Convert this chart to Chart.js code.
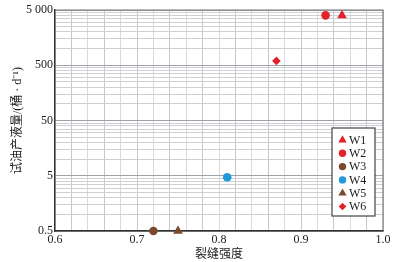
<!DOCTYPE html>
<html>
<head>
<meta charset="utf-8">
<script src="https://cdn.jsdelivr.net/npm/chart.js@4/dist/chart.umd.min.js"></script>
<style>
  html, body { margin: 0; padding: 0; background: #fff; }
  #wrap { width: 399px; height: 262px; position: relative; }
</style>
</head>
<body>
<div id="wrap"><canvas id="c"></canvas></div>
<script>
// data
var wells = ["W1", "W2", "W3", "W4", "W5", "W6"];
var fractureIntensity = [0.95, 0.93, 0.72, 0.81, 0.75, 0.87];
var fluidRate = [4000, 4000, 0.5, 4.7, 0.5, 600];
var yTickValues = [0.5, 5, 50, 500, 5000];
var yTickLabels = ["0.5", "5", "50", "500", "5 000"];
var xTickValues = [0.6, 0.7, 0.8, 0.9, 1.0];
var xTickLabels = ["0.6", "0.7", "0.8", "0.9", "1.0"];

var colors = ["#e3212b", "#e3212b", "#7b4a2b", "#1f9ad8", "#7b4a2b", "#e3212b"];
var shapes = ["triangle", "circle", "circle", "circle", "triangle", "rectRot"];
var serif = "'Liberation Serif', 'Noto Sans CJK SC', serif";

function markerSize(shape, big) {
    if (shape == "triangle") return big ? 5.6 : 4.8;
    if (shape == "rectRot") return big ? 4.3 : 3.8;
    return big ? 4.3 : 3.7;
}

var datasets = wells.map(function (name, i) {
    return {
        label: name,
        data: [{ x: fractureIntensity[i], y: fluidRate[i] }],
        backgroundColor: colors[i],
        borderColor: colors[i],
        pointStyle: shapes[i],
        pointRadius: markerSize(shapes[i], true),
        borderWidth: 0,
        clip: false
    };
});

// legend box drawn inside the plot, and the top/right frame
var boxPlugin = {
    id: "boxLegend",
    afterDraw: function (chart) {
        var ctx = chart.ctx, a = chart.chartArea;
        ctx.save();
        ctx.strokeStyle = "#777";
        ctx.lineWidth = 1.2;
        ctx.beginPath();
        ctx.moveTo(a.left, a.top);
        ctx.lineTo(a.right, a.top);
        ctx.lineTo(a.right, a.bottom);
        ctx.stroke();

        var bx = 332, by = 128, bw = 43, bh = 88;
        ctx.fillStyle = "#fff";
        ctx.fillRect(bx, by, bw, bh);
        ctx.strokeStyle = "#444";
        ctx.lineWidth = 1.2;
        ctx.strokeRect(bx, by, bw, bh);
        ctx.font = "12px " + serif;
        ctx.textBaseline = "middle";
        chart.data.datasets.forEach(function (ds, i) {
            var y = by + 12 + i * 13.3;
            ctx.fillStyle = ds.backgroundColor;
            ctx.strokeStyle = ds.backgroundColor;
            Chart.helpers.drawPoint(ctx, { pointStyle: ds.pointStyle, radius: markerSize(ds.pointStyle, false), rotation: 0, borderWidth: 0 }, bx + 10.5, y);
            ctx.fillStyle = "#222";
            ctx.fillText(ds.label, bx + 17, y + 0.5);
        });
        ctx.restore();
    }
};

new Chart(document.getElementById("c"), {
    type: "scatter",
    data: { datasets: datasets },
    plugins: [boxPlugin],
    options: {
        responsive: true,
        maintainAspectRatio: false,
        animation: false,
        layout: { padding: { top: 10, right: 16, left: 11, bottom: 0 } },
        plugins: { legend: { display: false }, tooltip: { enabled: false } },
        scales: {
            x: {
                type: "linear",
                min: 0.6,
                max: 1.0,
                afterBuildTicks: function (scale) {
                    var t = [];
                    for (var k = 0; k <= 20; k++) t.push({ value: Math.round((0.6 + k * 0.02) * 100) / 100 });
                    scale.ticks = t;
                },
                afterFit: function (scale) { scale.height = 31; },
                ticks: {
                    autoSkip: false,
                    maxRotation: 0,
                    padding: 2,
                    color: "#222",
                    font: { family: serif, size: 12 },
                    callback: function (v) {
                        var i = xTickValues.findIndex(function (t) { return Math.abs(t - v) < 1e-6; });
                        return i >= 0 ? xTickLabels[i] : "";
                    }
                },
                grid: {
                    color: function (c) {
                        var k = Math.round((c.tick.value - 0.6) / 0.02);
                        return k % 2 ? "#c4c8cc" : "#d8dadd";
                    },
                    lineWidth: 1,
                    drawTicks: false
                },
                border: { color: "#333", width: 1.5 },
                title: {
                    display: true,
                    text: "裂缝强度",
                    color: "#222",
                    font: { family: serif, size: 12 },
                    padding: { top: 0, bottom: 0 }
                }
            },
            y: {
                type: "logarithmic",
                min: 0.5,
                max: 5000,
                afterBuildTicks: function (scale) {
                    var t = [];
                    for (var n = 0; n < 4; n++) {
                        for (var k = 1; k < 10; k++) t.push({ value: 0.5 * k * Math.pow(10, n) });
                    }
                    t.push({ value: 5000 });
                    scale.ticks = t;
                },
                afterFit: function (scale) { scale.width = 44; },
                ticks: {
                    autoSkip: false,
                    padding: 2,
                    color: "#222",
                    font: { family: serif, size: 12 },
                    callback: function (v) {
                        var i = yTickValues.findIndex(function (t) { return Math.abs(t - v) / t < 1e-6; });
                        return i >= 0 ? yTickLabels[i] : "";
                    }
                },
                grid: {
                    color: function (c) {
                        var v = c.tick.value;
                        var major = yTickValues.some(function (t) { return Math.abs(t - v) / t < 1e-6; });
                        return major ? "#9ea2a6" : "#cdd0d3";
                    },
                    lineWidth: 1,
                    drawTicks: false
                },
                border: { color: "#333", width: 1.5 },
                title: {
                    display: true,
                    text: "试油产液量/(桶 · d⁻¹)",
                    color: "#222",
                    font: { family: serif, size: 12 },
                    padding: { top: 0, bottom: 4 }
                }
            }
        }
    }
});
</script>
</body>
</html>
